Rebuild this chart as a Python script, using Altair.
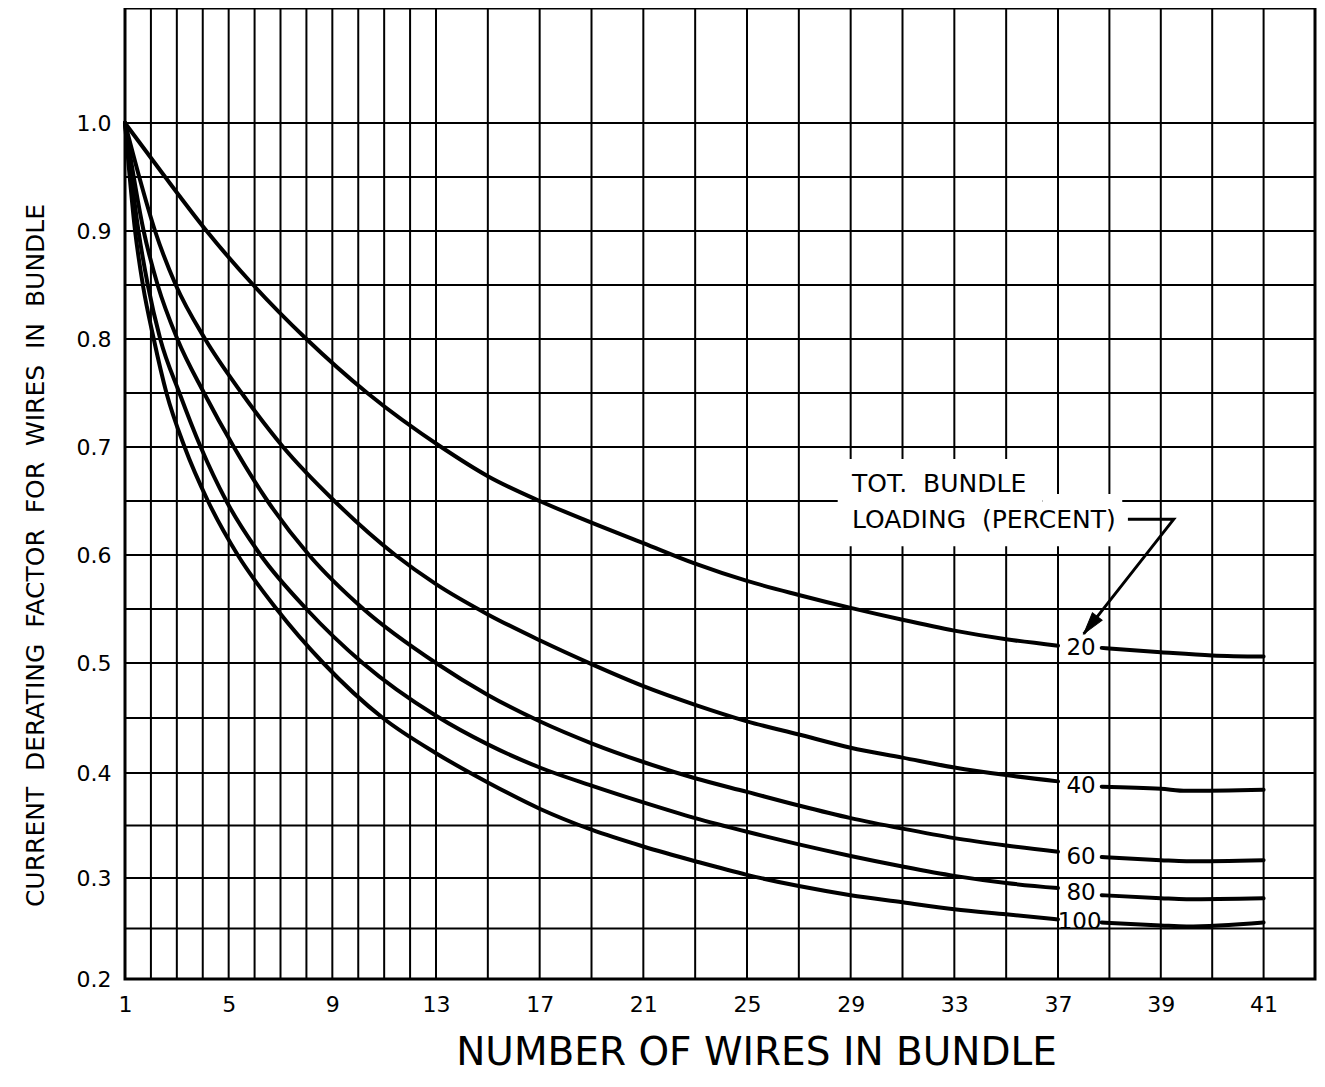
import altair as alt
import pandas as pd

# ---------------- axis / grid values ----------------
x_tick_values = [1, 5, 9, 13, 17, 21, 25, 29, 33, 37, 39, 41]
y_tick_values = [0.2, 0.3, 0.4, 0.5, 0.6, 0.7, 0.8, 0.9, 1.0]
x_grid_lines = [2, 3, 4, 5, 6, 7, 8, 9, 10, 11, 12, 13, 15, 17, 19, 21, 23, 25,
                27, 29, 31, 33, 35, 37, 38, 39, 40, 41]
y_grid_lines = [0.25, 0.30, 0.35, 0.40, 0.45, 0.50, 0.55, 0.60, 0.65, 0.70,
                0.75, 0.80, 0.85, 0.90, 0.95, 1.00]

# ---------------- curves ----------------
load_20_wires = [1, 2.55, 4.15, 5.95, 8.0, 10.35, 13.2, 15, 17, 19, 21, 23, 25, 27, 29, 31, 33, 35, 37]
load_20_vals = [1.0, 0.95, 0.90, 0.85, 0.80, 0.75, 0.70, 0.673, 0.650, 0.630, 0.611, 0.592, 0.576,
                0.563, 0.551, 0.540, 0.530, 0.522, 0.516]
load_20_end_wires = [37.85, 39, 40, 41]
load_20_end_vals = [0.514, 0.510, 0.507, 0.506]

load_40_wires = [1, 1.55, 2.16, 2.96, 4.09, 5.5, 7.1, 9.08, 11.43, 13, 15, 17, 19, 21, 23, 25,
                 27, 29, 31, 33, 35, 37]
load_40_vals = [1.0, 0.95, 0.90, 0.85, 0.80, 0.75, 0.70, 0.65, 0.60, 0.573, 0.545, 0.521, 0.499,
                0.479, 0.462, 0.447, 0.435, 0.423, 0.414, 0.405, 0.398, 0.392]
load_40_end_wires = [37.85, 39, 39.5, 41]
load_40_end_vals = [0.387, 0.385, 0.383, 0.384]

load_60_wires = [1, 1.72, 2.26, 3.02, 4.05, 5.2, 6.5, 8.1, 10.2, 13, 15, 17, 19, 21, 23, 25, 27,
                 29, 31, 33, 35, 37]
load_60_vals = [1.0, 0.90, 0.85, 0.80, 0.75, 0.70, 0.65, 0.60, 0.55, 0.50, 0.471, 0.447, 0.427,
                0.410, 0.395, 0.382, 0.369, 0.357, 0.347, 0.338, 0.331, 0.325]
load_60_end_wires = [37.85, 39, 39.5, 41]
load_60_end_vals = [0.320, 0.317, 0.316, 0.317]

load_80_wires = [1, 1.52, 1.88, 2.36, 3.1, 3.92, 4.91, 6.23, 8.0, 10.17, 13, 15, 17, 19, 21, 23,
                 25, 27, 29, 31, 33, 35, 37]
load_80_vals = [1.0, 0.90, 0.85, 0.80, 0.75, 0.70, 0.65, 0.60, 0.55, 0.50, 0.452, 0.426, 0.405,
                0.388, 0.372, 0.357, 0.344, 0.332, 0.321, 0.311, 0.302, 0.295, 0.290]
load_80_end_wires = [37.85, 39, 39.5, 41]
load_80_end_vals = [0.283, 0.280, 0.279, 0.280]

load_100_wires = [1, 1.39, 1.69, 2.11, 2.6, 3.3, 4.2, 5.35, 6.85, 8.65, 10.95, 13, 15, 17, 19,
                  21, 23, 25, 27, 29, 31, 33, 35, 37]
load_100_vals = [1.0, 0.90, 0.85, 0.80, 0.75, 0.70, 0.65, 0.60, 0.55, 0.50, 0.45, 0.418, 0.391,
                 0.366, 0.346, 0.330, 0.316, 0.303, 0.292, 0.283, 0.276, 0.269, 0.264, 0.259]
load_100_end_wires = [37.85, 39, 39.5, 41]
load_100_end_vals = [0.256, 0.253, 0.252, 0.256]

# curve labels
label_texts = ["20", "40", "60", "80", "100"]
label_wires = [37.45, 37.45, 37.45, 37.45, 37.42]
label_vals = [0.514, 0.388, 0.320, 0.285, 0.256]

# legend note
note_texts = ["TOT.\u00a0 BUNDLE", "LOADING\u00a0 (PERCENT)"]
note_wires = [29.05, 29.05]
note_vals = [0.658, 0.625]

# white box behind the note
box_x = [28.5, 36.4]
box_x2 = [36.4, 38.25]
box_y = [0.608, 0.608]
box_y2 = [0.689, 0.6565]

# leader arrow
arrow_wires = [38.36, 39.25, 37.5]
arrow_vals = [0.633, 0.633, 0.527]
arrow_order = [0, 1, 2]
arrow_tip_wire = [37.5]
arrow_tip_val = [0.527]

# ---------------- build tables ----------------
rows = []
for name, w1, v1, w2, v2 in [
    ("20", load_20_wires, load_20_vals, load_20_end_wires, load_20_end_vals),
    ("40", load_40_wires, load_40_vals, load_40_end_wires, load_40_end_vals),
    ("60", load_60_wires, load_60_vals, load_60_end_wires, load_60_end_vals),
    ("80", load_80_wires, load_80_vals, load_80_end_wires, load_80_end_vals),
    ("100", load_100_wires, load_100_vals, load_100_end_wires, load_100_end_vals),
]:
    for w, v in zip(w1, v1):
        rows.append({"wire": w, "val": v, "seg": name + "a"})
    for w, v in zip(w2, v2):
        rows.append({"wire": w, "val": v, "seg": name + "b"})
curves_df = pd.DataFrame(rows)

vgrid_df = pd.DataFrame({"wire": x_grid_lines})
hgrid_df = pd.DataFrame({"val": y_grid_lines})
labels_df = pd.DataFrame({"wire": label_wires, "val": label_vals, "text": label_texts})
note_df = pd.DataFrame({"wire": note_wires, "val": note_vals, "text": note_texts})
box_df = pd.DataFrame({"wire": box_x, "wire2": box_x2, "val": box_y, "val2": box_y2})
arrow_df = pd.DataFrame({"wire": arrow_wires, "val": arrow_vals, "o": arrow_order})
tip_df = pd.DataFrame({"wire": arrow_tip_wire, "val": arrow_tip_val})

# ---------------- scales / axes ----------------
W, H = 1190, 971
# graph paper: 1 wire per line up to 13, 2 per line to 37, then 1 per (wider) line
xs = alt.Scale(domain=[1, 37, 42], range=[0, 933, W], nice=False, zero=False)
# printed scale is slightly uneven towards the bottom
ys = alt.Scale(domain=[0.2, 0.3, 0.4, 0.5, 1.0, 1.107],
               range=[H, 870, 765, 655, 115, 0], nice=False, zero=False)

FONT = "DejaVu Sans"
X_TITLE = "NUMBER OF WIRES IN BUNDLE"
Y_TITLE = "CURRENT\u00a0 DERATING\u00a0 FACTOR\u00a0 FOR\u00a0 WIRES\u00a0 IN\u00a0 BUNDLE"

x_axis = alt.Axis(
    values=x_tick_values, title=X_TITLE,
    domain=False, ticks=False, grid=False,
    labelFont=FONT, labelFontSize=22, labelColor="black", labelPadding=15,
    labelFlush=False, labelOverlap=False,
    titleFont=FONT, titleFontSize=39, titleFontWeight="normal", titleColor="black",
    titleX=631, titleY=85, titleAlign="center", titleBaseline="alphabetic",
)
y_axis = alt.Axis(
    values=y_tick_values, format=".1f", title=Y_TITLE,
    domain=False, ticks=False, grid=False,
    labelFont=FONT, labelFontSize=22, labelColor="black", labelPadding=14,
    labelFlush=False, labelOverlap=False,
    titleFont=FONT, titleFontSize=25, titleFontWeight="normal", titleColor="black",
    titleAngle=270, titleX=-82, titleY=547, titleAlign="center", titleBaseline="alphabetic",
)


def X(field="wire"):
    return alt.X(f"{field}:Q", scale=xs, axis=x_axis, title=X_TITLE)


def Y(field="val"):
    return alt.Y(f"{field}:Q", scale=ys, axis=y_axis, title=Y_TITLE)


vgrid = alt.Chart(vgrid_df).mark_rule(color="black", strokeWidth=2).encode(x=X())
hgrid = alt.Chart(hgrid_df).mark_rule(color="black", strokeWidth=2).encode(y=Y())
boxes = alt.Chart(box_df).mark_rect(color="white").encode(
    x=X(), x2="wire2:Q", y=Y(), y2="val2:Q",
)
curves = alt.Chart(curves_df).mark_line(
    color="black", strokeWidth=4, interpolate="monotone", strokeCap="round"
).encode(x=X(), y=Y(), detail="seg:N")
labels = alt.Chart(labels_df).mark_text(
    font=FONT, fontSize=23, align="center", baseline="middle", color="black"
).encode(x=X(), y=Y(), text="text:N")
note = alt.Chart(note_df).mark_text(
    font=FONT, fontSize=25, align="left", baseline="alphabetic", color="black"
).encode(x=X(), y=Y(), text="text:N")
arrow_line = alt.Chart(arrow_df).mark_line(color="black", strokeWidth=3).encode(
    x=X(), y=Y(), order="o:Q",
)
arrow_head = alt.Chart(tip_df).mark_point(
    shape="M0,0L0.28,1L-0.28,1Z", filled=True, fill="black", stroke="black",
    strokeWidth=1, size=1936, angle=218, opacity=1,
).encode(x=X(), y=Y())

chart = alt.layer(
    vgrid, hgrid, boxes, curves, labels, note, arrow_line, arrow_head
).properties(
    width=W, height=H,
    padding={"left": 117, "top": 0, "right": 2, "bottom": 95},
    autosize=alt.AutoSizeParams(type="none"),
    background="white",
).configure_view(stroke="black", strokeWidth=3)

chart.save("out.html", embed_options={"renderer": "svg", "actions": False})
